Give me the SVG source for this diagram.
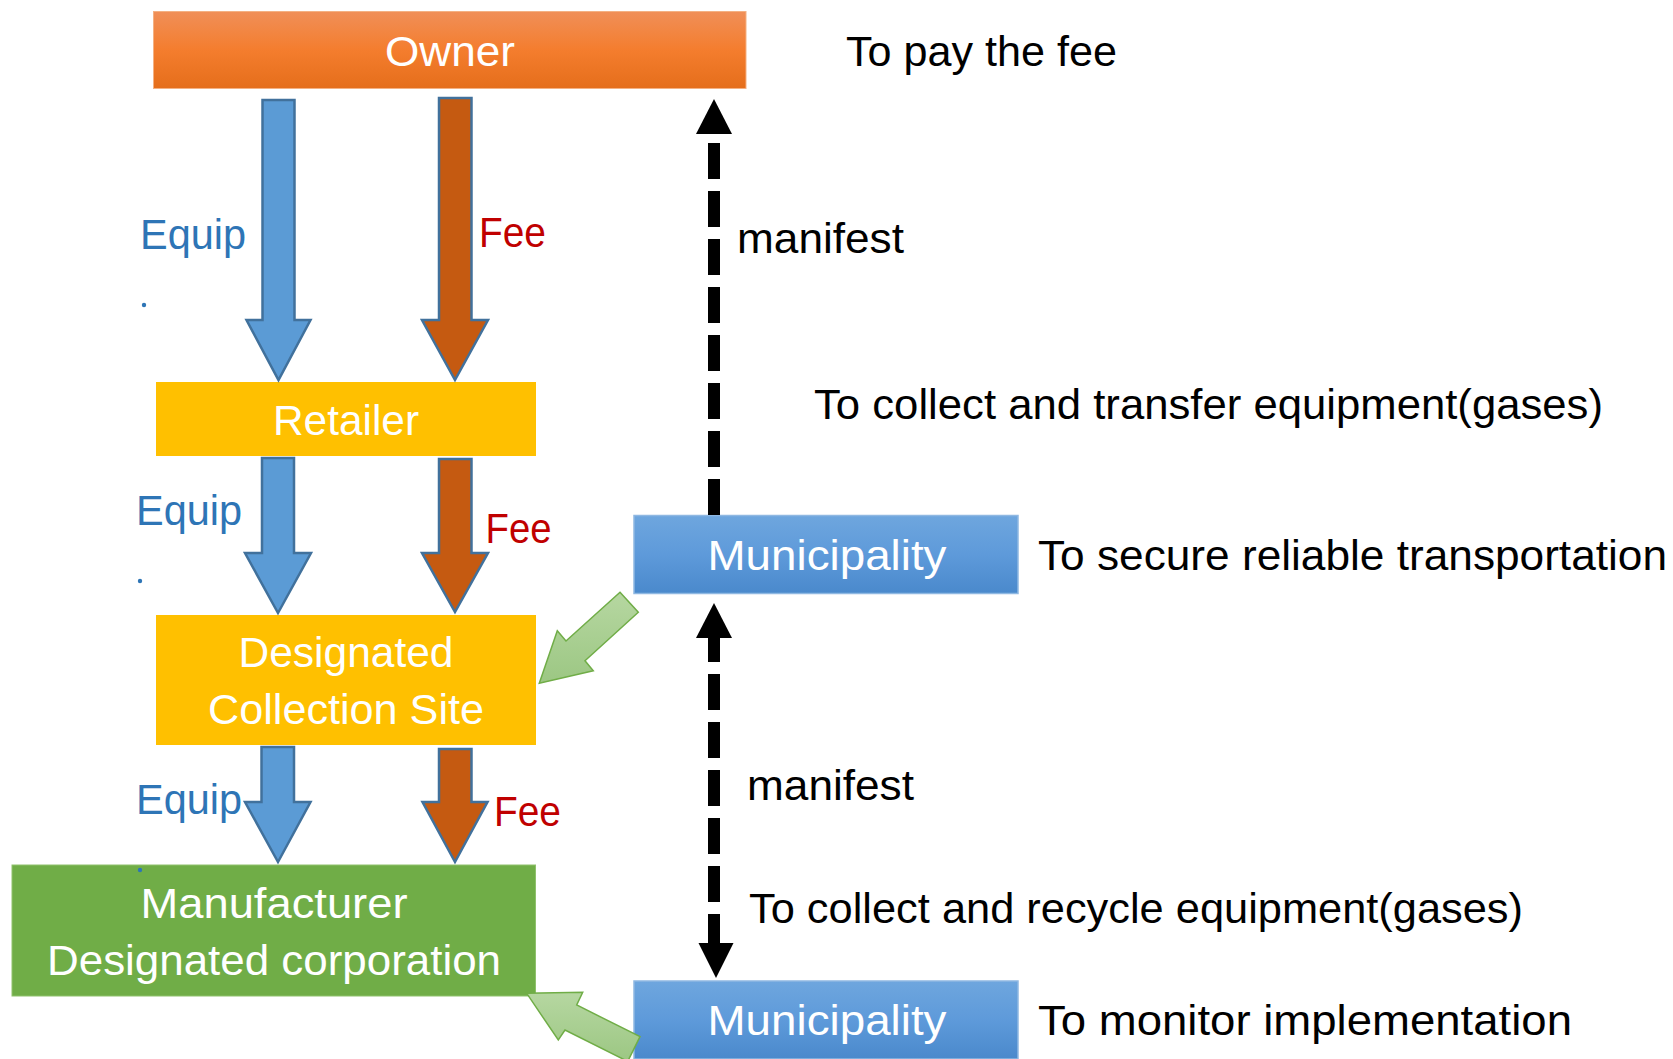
<svg xmlns="http://www.w3.org/2000/svg" width="1673" height="1059" viewBox="0 0 1673 1059">
<defs>
<linearGradient id="gOwner" x1="0" y1="0" x2="0" y2="1">
<stop offset="0" stop-color="#F08F58"/><stop offset="0.5" stop-color="#F47D2E"/><stop offset="1" stop-color="#E56E1B"/>
</linearGradient>
<linearGradient id="gMuni" x1="0" y1="0" x2="0" y2="1">
<stop offset="0" stop-color="#6EA6DE"/><stop offset="0.5" stop-color="#5E9ADA"/><stop offset="1" stop-color="#4A89CC"/>
</linearGradient>
<linearGradient id="gGreen" x1="0" y1="0" x2="0" y2="1">
<stop offset="0" stop-color="#B6D7A1"/><stop offset="1" stop-color="#9CC783"/>
</linearGradient>
</defs>
<style>
text{font-family:"Liberation Sans",Arial,sans-serif;font-size:43px}
.w{fill:#FFFFFF;text-anchor:middle}
.k{fill:#000000}
.eq{fill:#2E75B6}
.fee{fill:#C00000}
.yb{fill:#FFC000}
.blue{fill:#5B9BD5;stroke:#41719C;stroke-width:2.5}
.brown{fill:#C55A11;stroke:#41719C;stroke-width:2.5}
.green{fill:url(#gGreen);stroke:#70AD47;stroke-width:1.5}
.dash{stroke:#000;stroke-width:12;stroke-dasharray:36 12;fill:none}
</style>

<g id="owner">
<rect x="153.5" y="11.5" width="592.5" height="77" fill="url(#gOwner)" stroke="#F4B183" stroke-width="1"/>
<text class="w" x="450" y="66" textLength="130" lengthAdjust="spacingAndGlyphs">Owner</text>
</g>

<g id="retailer">
<rect x="156" y="382" width="380" height="74" class="yb"/>
<text class="w" x="346" y="435" textLength="146" lengthAdjust="spacingAndGlyphs">Retailer</text>
</g>

<g id="collection-site">
<rect x="156" y="615" width="380" height="130" class="yb"/>
<text class="w" x="346" y="667" textLength="215" lengthAdjust="spacingAndGlyphs">Designated</text>
<text class="w" x="346" y="724" textLength="276" lengthAdjust="spacingAndGlyphs">Collection Site</text>
</g>

<g id="manufacturer">
<rect x="12" y="865" width="523.5" height="131" fill="#70AD47" stroke="#8FC16C" stroke-width="1"/>
<text class="w" x="274" y="918" textLength="267" lengthAdjust="spacingAndGlyphs">Manufacturer</text>
<text class="w" x="274" y="975" textLength="454" lengthAdjust="spacingAndGlyphs">Designated corporation</text>
</g>

<g id="municipality-1">
<rect x="634" y="515.5" width="384" height="78" fill="url(#gMuni)" stroke="#8FB8E2" stroke-width="1.5"/>
<text class="w" x="827" y="570" textLength="239" lengthAdjust="spacingAndGlyphs">Municipality</text>
</g>

<g id="municipality-2">
<rect x="634" y="981" width="384" height="78" fill="url(#gMuni)" stroke="#8FB8E2" stroke-width="1.5"/>
<text class="w" x="827" y="1035" textLength="239" lengthAdjust="spacingAndGlyphs">Municipality</text>
</g>

<g id="connectors">
<polygon class="blue" points="262.5,100 294.5,100 294.5,320 310.5,320 278.5,380 246.5,320 262.5,320"/>
<polygon class="brown" points="439,98 471.5,98 471.5,320 488,320 455,380 422,320 439,320"/>
<polygon class="blue" points="262,458 294,458 294,553 311,553 278,613 245,553 262,553"/>
<polygon class="brown" points="439,459 471.5,459 471.5,553 488,553 455,612 422,553 439,553"/>
<polygon class="blue" points="261.5,747 294,747 294,802 310.5,802 278,862 245,802 261.5,802"/>
<polygon class="brown" points="439,749 471.5,749 471.5,802 487.5,802 455,862 422.5,802 439,802"/>

<line class="dash" x1="714" y1="143" x2="714" y2="515"/>
<polygon points="714,99 732,134 696,134" fill="#000"/>

<line class="dash" x1="714" y1="626" x2="714" y2="946"/>
<polygon points="714,603 732,638 696,638" fill="#000"/>
<polygon points="716,978 733.5,943 698.5,943" fill="#000"/>

<polygon class="green" points="620,592.3 638.3,612.3 585,660.7 593.3,670.7 539.3,683.3 557.3,630.7 566,641"/>
<polygon class="green" points="640,1036.7 627.7,1061.4 565,1030 558.3,1040 526.7,993.3 582.7,992.3 576.7,1005"/>
</g>

<g id="labels">
<text class="k" x="846" y="66" textLength="271" lengthAdjust="spacingAndGlyphs">To pay the fee</text>
<text class="eq" x="140" y="249" textLength="106" lengthAdjust="spacingAndGlyphs">Equip</text>
<circle cx="144" cy="305" r="2.2" fill="#2E75B6"/>
<text class="fee" x="479" y="247" textLength="67" lengthAdjust="spacingAndGlyphs">Fee</text>
<text class="k" x="737" y="253" textLength="167" lengthAdjust="spacingAndGlyphs">manifest</text>
<text class="k" x="814" y="419" textLength="789" lengthAdjust="spacingAndGlyphs">To collect and transfer equipment(gases)</text>
<text class="eq" x="136" y="525" textLength="106" lengthAdjust="spacingAndGlyphs">Equip</text>
<circle cx="140" cy="581" r="2.2" fill="#2E75B6"/>
<text class="fee" x="485.5" y="543" textLength="66" lengthAdjust="spacingAndGlyphs">Fee</text>
<text class="k" x="1038" y="570" textLength="629" lengthAdjust="spacingAndGlyphs">To secure reliable transportation</text>
<text class="k" x="747" y="800" textLength="167" lengthAdjust="spacingAndGlyphs">manifest</text>
<text class="eq" x="136" y="813.5" textLength="106" lengthAdjust="spacingAndGlyphs">Equip</text>
<circle cx="140" cy="870" r="2.2" fill="#2E75B6"/>
<text class="fee" x="494" y="826" textLength="67" lengthAdjust="spacingAndGlyphs">Fee</text>
<text class="k" x="749" y="923" textLength="774" lengthAdjust="spacingAndGlyphs">To collect and recycle equipment(gases)</text>
<text class="k" x="1038" y="1035" textLength="534" lengthAdjust="spacingAndGlyphs">To monitor implementation</text>
</g>
</svg>
